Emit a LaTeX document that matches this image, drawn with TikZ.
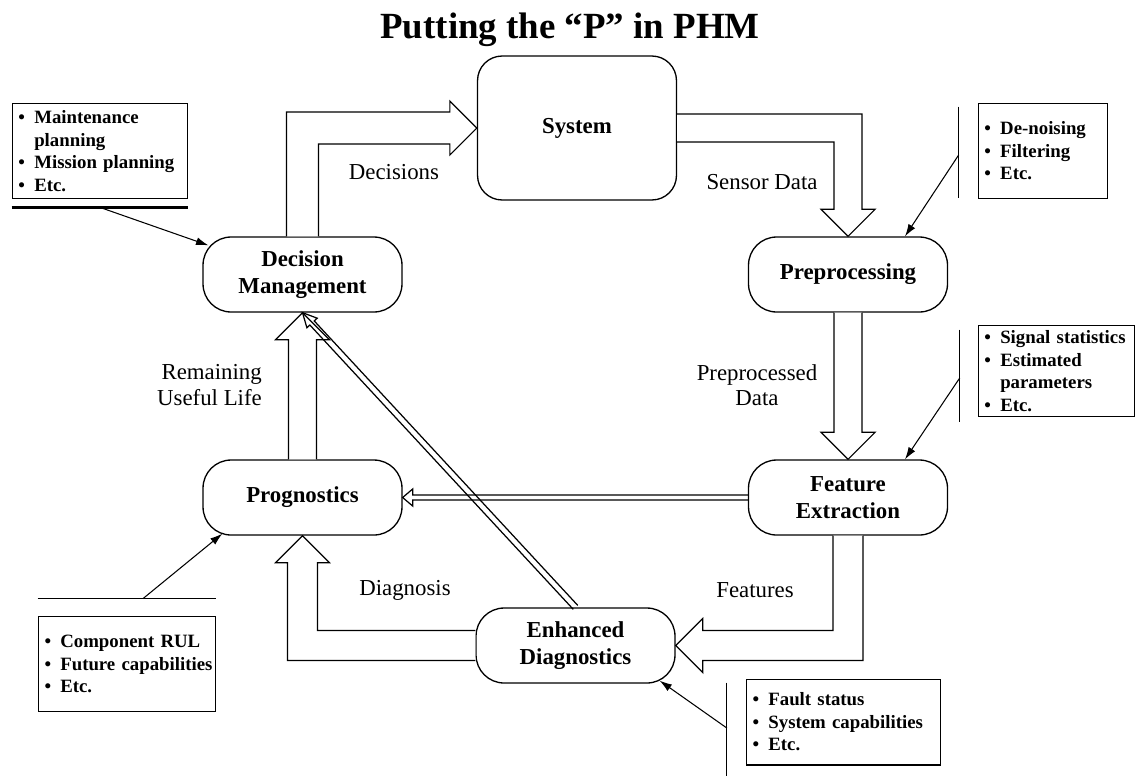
\documentclass[tikz,border=0pt]{standalone}
\usepackage{fontspec}
\setmainfont{Liberation Serif}
\usepackage{tikz}
\usetikzlibrary{arrows.meta,calc}

\newcommand{\bul}{\makebox[9pt][l]{\textbullet}}
\newcommand{\ind}{\hspace*{9pt}}

\tikzset{
  stage/.style   = {draw,line width=0.75pt,rounded corners=16pt,fill=white,
                    minimum width=3.98cm,minimum height=1.5cm,align=center,
                    font=\fontsize{13}{15.3}\selectfont\bfseries,inner sep=0pt},
  lbl/.style     = {align=center,font=\fontsize{13}{14.5}\selectfont},
  note/.style    = {draw,line width=0.7pt,align=left,inner xsep=3.5pt,inner ysep=0pt,
                    font=\fontsize{10.7}{12.8}\selectfont\bfseries},
  fat/.style     = {draw,line width=0.7pt,fill=white,line join=miter},
  slim/.style    = {draw,line width=0.7pt,line join=miter},
  pointer/.style = {-{Latex[length=7pt,width=4.5pt]},line width=0.6pt},
  rule/.style    = {line width=0.7pt},
}

\begin{document}
\begin{tikzpicture}[x=0.02cm,y=-0.02cm]
  \useasboundingbox (0,0) rectangle (1138,775);

  \node[font=\fontsize{21}{24}\selectfont\bfseries] (title) at (570,30)
    {Putting the “P” in PHM};

  \node[stage,minimum height=2.88cm,rounded corners=14pt] (sys) at (577,128) {System};
  \node[stage] (dm)   at (302.5,274.5) {Decision\\Management};
  \node[stage] (prep) at (848,274.5)   {Preprocessing};
  \node[stage] (fe)   at (848,497.5)   {Feature\\Extraction};
  \node[stage] (prog) at (302.5,497.5) {Prognostics};
  \node[stage] (ed)   at (575.5,645.5) {Enhanced\\Diagnostics};

  \draw[fat] ($(dm.north)+(-16,0)$) |- ($(sys.west)+(-27,-16)$) -- ++(0,-11)
    -- (sys.west) -- ($(sys.west)+(-27,27)$) -- ++(0,-11) -| ($(dm.north)+(16,0)$);
  \draw[fat] ($(sys.east)+(0,-14)$) -| ($(prep.north)+(14,-27)$) -- ++(13,0)
    -- (prep.north) -- ($(prep.north)+(-27,-27)$) -- ++(13,0) |- ($(sys.east)+(0,14)$);
  \draw[fat] ($(prep.south)+(-14,0)$) -- ($(fe.north)+(-14,-27)$) -- ++(-13,0)
    -- (fe.north) -- ($(fe.north)+(27,-27)$) -- ++(-13,0) -- ($(prep.south)+(14,0)$);
  \draw[fat] ($(fe.south)+(-15,0)$) |- ($(ed.east)+(27,-15)$) -- ++(0,-12)
    -- (ed.east) -- ($(ed.east)+(27,27)$) -- ++(0,-12) -| ($(fe.south)+(15,0)$);
  \draw[fat] ($(ed.west)+(0,-15)$) -| ($(prog.south)+(15,27)$) -- ++(12,0)
    -- (prog.south) -- ($(prog.south)+(-27,27)$) -- ++(12,0) |- ($(ed.west)+(0,15)$);
  \draw[fat] ($(prog.north)+(-14,0)$) -- ($(dm.south)+(-14,27)$) -- ++(-13,0)
    -- (dm.south) -- ($(dm.south)+(27,27)$) -- ++(-13,0) -- ($(prog.north)+(14,0)$);

  \draw[slim] ($(fe.west)+(0,-2.5)$) -- ($(prog.east)+(10,-2.5)$) -- ++(0,-6)
    -- (prog.east) -- ($(prog.east)+(10,8.5)$) -- ++(0,-6) -- ($(fe.west)+(0,2.5)$);
  \coordinate (hb) at ($(dm.south)!8pt!(ed.north)$);
  \draw[slim] ($(ed.north)!1.7pt!90:(dm.south)$) -- ($(hb)!1.7pt!90:(dm.south)$)
    -- ($(hb)!4pt!90:(dm.south)$) -- (dm.south) -- ($(hb)!4pt!-90:(dm.south)$)
    -- ($(hb)!1.7pt!-90:(dm.south)$) -- ($(ed.north)!1.7pt!-90:(dm.south)$);

  \node[lbl] (decl)  at (394,172) {Decisions};
  \node[lbl] (sensl) at (762,182) {Sensor Data};
  \node[lbl,align=right,anchor=east] (rull) at (268,385) {Remaining\\Useful Life};
  \node[lbl] (ppl)   at (757,385) {Preprocessed\\Data};
  \node[lbl] (diagl) at (405,590) {Diagnosis};
  \node[lbl] (featl) at (755,590) {Features};

  \node[note,text width=92.8pt,minimum height=54.4pt] (mgmtnote) at (100,151)
    {\bul Maintenance\\\ind planning\\\bul Mission planning\\\bul Etc.};
  \node[note,text width=66.7pt,minimum height=54.4pt] (prepnote) at (1043,151)
    {\bul De-noising\\\bul Filtering\\\bul Etc.};
  \node[note,text width=82pt,minimum height=52.2pt] (featnote) at (1056.5,371)
    {\bul Signal statistics\\\bul Estimated\\\ind parameters\\\bul Etc.};
  \node[note,text width=93.9pt,minimum height=54.4pt] (prognote) at (127,664)
    {\bul Component RUL\\\bul \mbox{Future capabilities}\\\bul Etc.};
  \node[note,text width=103.5pt,minimum height=48.8pt] (diagnote) at (843.5,722)
    {\bul Fault status\\\bul System capabilities\\\bul Etc.};

  \draw[rule,line width=1.4pt] ($(mgmtnote.south west)+(0,8)$) -- ($(mgmtnote.south east)+(0,8)$);
  \coordinate (mgmtfoot) at ($(mgmtnote.south)+(0,8)$);
  \draw[pointer] (mgmtfoot) -- ($(dm.north west)+(6,9)$);

  \draw[rule] ($(prepnote.north west)+(-19,4)$) -- ($(prepnote.south west)+(-19,-1)$);
  \coordinate (prepfoot) at ($(prepnote.west)+(-19,4)$);
  \draw[pointer] (prepfoot) -- ($(prep.north)+(57,0)$);

  \draw[rule] ($(featnote.north west)+(-18,5)$) -- ($(featnote.south west)+(-18,5)$);
  \coordinate (featfoot) at ($(featnote.west)+(-18,7)$);
  \draw[pointer] (featfoot) -- ($(fe.north)+(57,0)$);

  \draw[rule] ($(prognote.north west)+(0,-17)$) -- ($(prognote.north east)+(0,-17)$);
  \coordinate (progfoot) at ($(prognote.north)+(16,-17)$);
  \draw[pointer] (progfoot) -- ($(prog.south west)+(20,-2)$);

  \draw[rule] ($(diagnote.north west)+(-19,4)$) -- ($(diagnote.south west)+(-19,10)$);
  \coordinate (diagfoot) at ($(diagnote.west)+(-19,6)$);
  \draw[pointer] (diagfoot) -- ($(ed.south east)+(-16,-3)$);
\end{tikzpicture}
\end{document}
